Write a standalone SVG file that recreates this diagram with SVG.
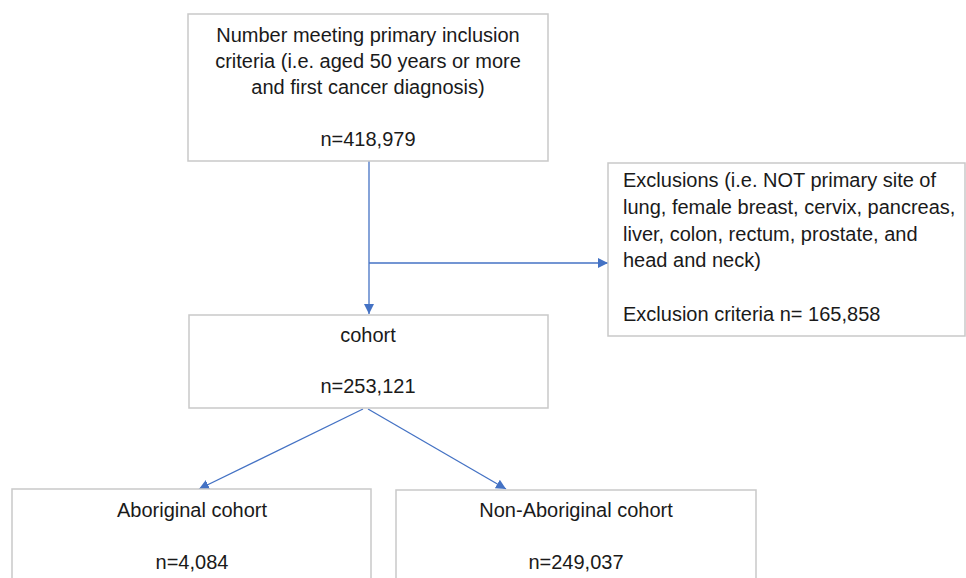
<svg xmlns="http://www.w3.org/2000/svg" width="966" height="578" viewBox="0 0 966 578">
<style>
.box{fill:#ffffff;stroke:#c9c9c9;stroke-width:1.5}
.t{font-family:"Liberation Sans",Arial,sans-serif;font-size:20px;fill:#1a1a1a}
.c{text-anchor:middle}
.conn{stroke:#4472c4;stroke-width:1.3;fill:none}
</style>
<defs>
<marker id="ah" viewBox="0 0 10 10" refX="10" refY="5" markerWidth="10" markerHeight="11" markerUnits="userSpaceOnUse" orient="auto">
<path d="M0,0 L10,5 L0,10 z" fill="#4472c4"/>
</marker>
</defs>
<rect width="966" height="578" fill="#ffffff"/>
<g id="connectors">
<line class="conn" x1="369" y1="161" x2="369" y2="314" marker-end="url(#ah)"/>
<line class="conn" x1="369" y1="263" x2="608" y2="263" marker-end="url(#ah)"/>
<line class="conn" x1="363" y1="409" x2="199" y2="489" marker-end="url(#ah)"/>
<line class="conn" x1="368" y1="409" x2="506" y2="489" marker-end="url(#ah)"/>
</g>
<g id="node-primary">
<rect class="box" x="188" y="14" width="360" height="147"/>
<text class="t c" x="368" y="42">Number meeting primary inclusion</text>
<text class="t c" x="368" y="68">criteria (i.e. aged 50 years or more</text>
<text class="t c" x="368" y="94">and first cancer diagnosis)</text>
<text class="t c" x="368" y="146">n=418,979</text>
</g>
<g id="node-exclusions">
<rect class="box" x="608" y="163" width="357" height="173"/>
<text class="t" x="623" y="187">Exclusions (i.e. NOT primary site of</text>
<text class="t" x="623" y="214">lung, female breast, cervix, pancreas,</text>
<text class="t" x="623" y="241">liver, colon, rectum, prostate, and</text>
<text class="t" x="623" y="267">head and neck)</text>
<text class="t" x="623" y="321">Exclusion criteria n= 165,858</text>
</g>
<g id="node-cohort">
<rect class="box" x="189" y="315" width="359" height="93"/>
<text class="t c" x="368" y="342">cohort</text>
<text class="t c" x="368" y="393">n=253,121</text>
</g>
<g id="node-aboriginal">
<rect class="box" x="12" y="489" width="359" height="100"/>
<text class="t c" x="192" y="517">Aboriginal cohort</text>
<text class="t c" x="192" y="569">n=4,084</text>
</g>
<g id="node-nonaboriginal">
<rect class="box" x="396" y="490" width="360" height="100"/>
<text class="t c" x="576" y="517">Non-Aboriginal cohort</text>
<text class="t c" x="576" y="569">n=249,037</text>
</g>
</svg>
